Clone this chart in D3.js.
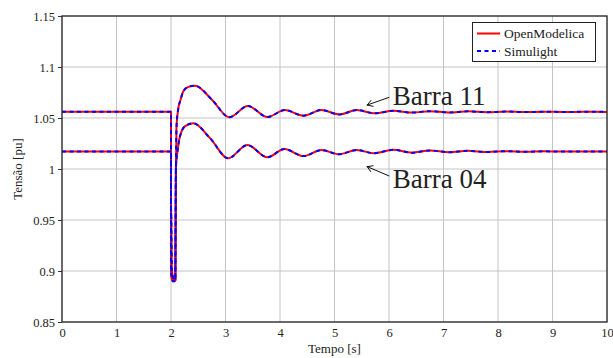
<!DOCTYPE html>
<html><head><meta charset="utf-8">
<script src="https://cdn.jsdelivr.net/npm/d3@7"></script>
<style>body{margin:0;background:#fff}svg{display:block}text{font-family:"Liberation Serif","Times New Roman",serif;fill:#222}</style>
</head><body>
<script>
// ---- data ----
const xTickValues = [0,1,2,3,4,5,6,7,8,9,10];
const yTickValues = [0.85,0.9,0.95,1,1.05,1.1,1.15];
const yTickLabels = ["0.85","0.9","0.95","1","1.05","1.1","1.15"];
const seriesNames = ["OpenModelica","Simulight"];
const busNames = ["Barra 11","Barra 04"];

// Barra 11 — pre-fault & fault (linear)
const tB11Fault = [0, 2.0, 2.0, 2.01, 2.03, 2.06, 2.08];
const vB11Fault = [1.0562, 1.0562, 0.900, 0.893, 0.890, 0.890, 0.891];
// Barra 11 — post-fault
const tB11Post = [2.08, 2.09, 2.10, 2.13, 2.17, 2.23, 2.32, 2.44, 2.75, 3.07, 3.41, 3.77, 4.09, 4.43, 4.76, 5.09, 5.41, 5.74, 6.08, 6.42, 6.75, 7.10, 7.45, 7.80, 8.15, 8.50, 8.85, 9.20, 9.60, 10.0];
const vB11Post = [0.891, 0.990, 1.040, 1.058, 1.0670, 1.0765, 1.0805, 1.0817, 1.0680, 1.0507, 1.0618, 1.0510, 1.0578, 1.0523, 1.0578, 1.0535, 1.0578, 1.0546, 1.0570, 1.0553, 1.0567, 1.0555, 1.0565, 1.0557, 1.0563, 1.0558, 1.0562, 1.0559, 1.0561, 1.0560];

// Barra 04 — pre-fault & fault (linear)
const tB04Fault = [0, 2.0, 2.0, 2.006, 2.015, 2.04, 2.08];
const vB04Fault = [1.0172, 1.0172, 0.963, 0.950, 0.900, 0.892, 0.891];
// Barra 04 — post-fault
const tB04Post = [2.08, 2.09, 2.115, 2.165, 2.26, 2.41, 2.72, 3.05, 3.40, 3.77, 4.08, 4.43, 4.76, 5.08, 5.41, 5.72, 6.08, 6.42, 6.75, 7.10, 7.45, 7.80, 8.15, 8.50, 8.85, 9.20, 9.60, 10.0];
const vB04Post = [0.891, 1.002, 1.0154, 1.0320, 1.0420, 1.0448, 1.0300, 1.0105, 1.0235, 1.0115, 1.0196, 1.0127, 1.0186, 1.0145, 1.0186, 1.0154, 1.0188, 1.0160, 1.0182, 1.0164, 1.0178, 1.0167, 1.0175, 1.0169, 1.0173, 1.0171, 1.0172, 1.0172];

// ---- layout ----
const W = 613, H = 358;
const m = {left:62, top:16, right:6, bottom:36};
const pw = W - m.left - m.right, ph = H - m.top - m.bottom;

const svg = d3.select("body").append("svg").attr("width", W).attr("height", H);
const x = d3.scaleLinear().domain([0,10]).range([m.left, m.left+pw]);
const y = d3.scaleLinear().domain([0.85,1.15]).range([m.top+ph, m.top]);

// grid
const g = svg.append("g");
g.selectAll(".gx").data(xTickValues.slice(1,-1)).join("line")
  .attr("x1", d=>x(d)).attr("x2", d=>x(d)).attr("y1", y(0.85)).attr("y2", y(1.15))
  .attr("stroke", "#c4c4c4").attr("stroke-width", 1);
g.selectAll(".gy").data(yTickValues.slice(1,-1)).join("line")
  .attr("x1", x(0)).attr("x2", x(10)).attr("y1", d=>y(d)).attr("y2", d=>y(d))
  .attr("stroke", "#c4c4c4").attr("stroke-width", 1);

// axes
const xAxis = d3.axisBottom(x).tickValues(xTickValues).tickSize(0).tickPadding(6).tickFormat(d3.format("d"));
const yAxis = d3.axisLeft(y).tickValues(yTickValues).tickSize(4).tickPadding(3).tickFormat((d,i)=>yTickLabels[i]);
const gx = svg.append("g").attr("transform", `translate(0,${y(0.85)})`).call(xAxis);
const gy = svg.append("g").attr("transform", `translate(${x(0)},0)`).call(yAxis);
[gx, gy].forEach(a => {
  a.select(".domain").remove();
  a.selectAll("text").style("font-family", '"Liberation Serif",serif').style("font-size", "12.5px").attr("fill", "#222");
  a.selectAll(".tick line").attr("stroke", "#333");
});
gy.selectAll(".tick text").attr("dy", "0.35em");

// curves
const lineLin = d3.line().x(d=>x(d[0])).y(d=>y(d[1])).curve(d3.curveLinear);
const lineSm = d3.line().x(d=>x(d[0])).y(d=>y(d[1])).curve(d3.curveMonotoneX);
const zip = (a,b) => a.map((t,i)=>[t,b[i]]);
const buses = [
  {fault: zip(tB11Fault, vB11Fault), post: zip(tB11Post, vB11Post)},
  {fault: zip(tB04Fault, vB04Fault), post: zip(tB04Post, vB04Post)}
];
const styles = [
  {stroke:"#ff0000", dash:null},
  {stroke:"#0000ff", dash:"4,3.5"}
];
const clip = svg.append("clipPath").attr("id","clip").append("rect")
  .attr("x", x(0)).attr("y", y(1.15)).attr("width", pw).attr("height", ph);
const cg = svg.append("g").attr("clip-path","url(#clip)");
styles.forEach(s => {
  buses.forEach(b => {
    const dpath = lineLin(b.fault) + lineSm(b.post).replace(/^M/, "L");
    cg.append("path").attr("d", dpath).attr("fill","none")
      .attr("stroke", s.stroke).attr("stroke-width", 2)
      .attr("stroke-dasharray", s.dash).attr("stroke-linejoin","round");
  });
});

// frame
svg.append("rect").attr("x", x(0)).attr("y", y(1.15)).attr("width", pw).attr("height", ph)
  .attr("fill","none").attr("stroke","#2a2a2a").attr("stroke-width",1.4);

// annotations
const ann = [
  {name: busNames[0], tip:[5.60,1.0627], tail:[6.005,1.0703], text:[6.07,1.0623]},
  {name: busNames[1], tip:[5.60,1.0023], tail:[6.005,0.9931], text:[6.07,0.9811]}
];
ann.forEach(a => {
  const x1 = x(a.tail[0]), y1 = y(a.tail[1]), x2 = x(a.tip[0]), y2 = y(a.tip[1]);
  svg.append("line").attr("x1",x1).attr("y1",y1).attr("x2",x2).attr("y2",y2)
    .attr("stroke","#111").attr("stroke-width",1);
  const ang = Math.atan2(y2-y1, x2-x1), L = 6, sp = 0.55;
  [ang+Math.PI-sp, ang+Math.PI+sp].forEach(aa => {
    svg.append("line").attr("x1",x2).attr("y1",y2)
      .attr("x2", x2+L*Math.cos(aa)).attr("y2", y2+L*Math.sin(aa))
      .attr("stroke","#111").attr("stroke-width",1).attr("stroke-linecap","round");
  });
  svg.append("text").attr("x", x(a.text[0])).attr("y", y(a.text[1]))
    .style("font-size","27px").attr("fill","#1a1a1a").text(a.name);
});

// legend
const lg = svg.append("g");
lg.append("rect").attr("x",472.5).attr("y",22.5).attr("width",123).attr("height",39)
  .attr("fill","#fff").attr("stroke","#222").attr("stroke-width",1);
styles.forEach((s,i) => {
  const yy = 33.5 + i*17.5;
  lg.append("line").attr("x1",477).attr("x2",500).attr("y1",yy).attr("y2",yy)
    .attr("stroke", s.stroke).attr("stroke-width",2).attr("stroke-dasharray", s.dash);
  lg.append("text").attr("x",504).attr("y",yy+4.5).style("font-size","13.5px").text(seriesNames[i]);
});

// axis titles
svg.append("text").attr("x", x(5)).attr("y", 353).attr("text-anchor","middle")
  .style("font-size","13px").text("Tempo [s]");
svg.append("text").attr("transform", `translate(22,${y(1.0)}) rotate(-90)`).attr("text-anchor","middle")
  .style("font-size","13px").text("Tensão [pu]");
</script>
</body></html>
